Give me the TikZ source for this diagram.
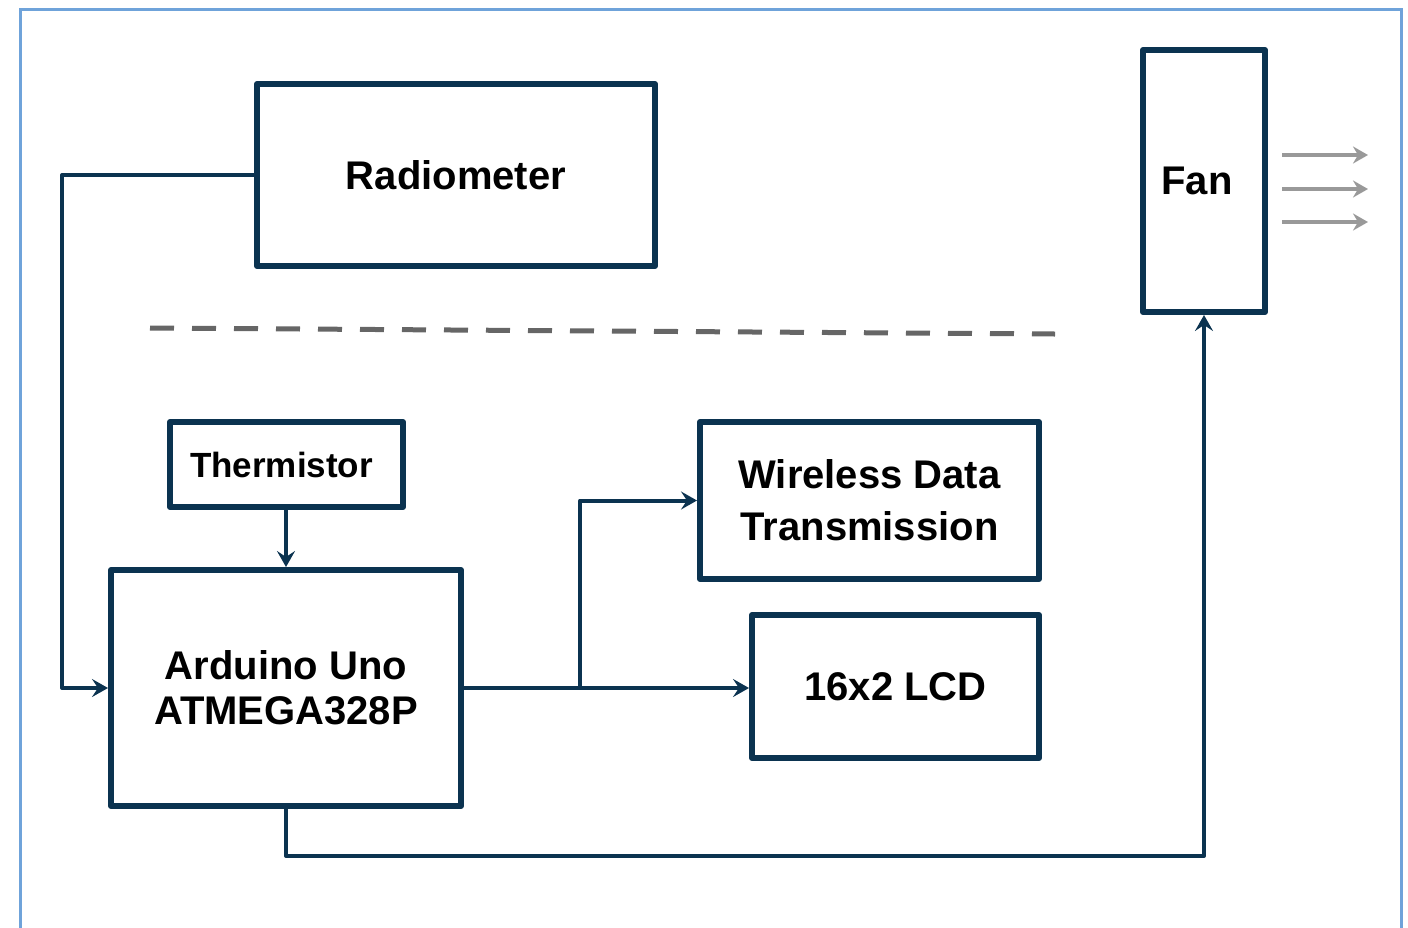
\documentclass[tikz,border=0pt]{standalone}
\usepackage{fontspec}
\setmainfont{Liberation Sans}
\usetikzlibrary{arrows.meta,calc}
\definecolor{navy}{HTML}{0B3350}
\definecolor{frameblue}{HTML}{6FA3DA}
\definecolor{dashgray}{HTML}{666666}
\definecolor{fangray}{HTML}{999999}
\tikzset{
  blk/.style={draw=navy, line width=6pt, line join=round, fill=white, align=center,
    inner sep=0pt, text=black, font=\bfseries\fontsize{40}{45}\selectfont},
  conn/.style={draw=navy, line width=4pt, line join=round,
    -{Stealth[length=16pt,width=18pt,inset=6pt]}},
  plain/.style={draw=navy, line width=4pt, line join=round},
  fanarrow/.style={draw=fangray, line width=4.5pt,
    -{Stealth[length=15pt,width=17pt,inset=5pt]}},
}
\begin{document}
\begin{tikzpicture}[x=1pt,y=-1pt]
\useasboundingbox (0,0) rectangle (1408,927);
% frame
\draw[frameblue, line width=3pt] (20,930) -- (20,9) -- (1401,9) -- (1401,930);
% blocks
\node[blk, minimum width=398pt, minimum height=182pt] (rad) at (456,175) {Radiometer};
\node[blk, minimum width=122pt, minimum height=262pt] (fan) at (1204,181) {Fan\hspace{14pt}};
\node[blk, minimum width=233pt, minimum height=85pt, font=\bfseries\fontsize{35}{40}\selectfont] (therm) at (286.5,464.5) {Thermistor\hspace{10pt}};
\node[blk, minimum width=350pt, minimum height=236pt, font=\bfseries\fontsize{40}{45}\selectfont] (ard) at (286,688) {Arduino Uno\\ATMEGA328P};
\node[blk, minimum width=339pt, minimum height=157pt, font=\bfseries\fontsize{40}{52}\selectfont] (wl) at (869.5,500.5) {Wireless Data\\Transmission};
\node[blk, minimum width=287pt, minimum height=143pt] (lcd) at (895.5,686.5) {16x2 LCD};
% dashed separator
\coordinate (d1) at (150,328);
\coordinate (d2) at (1055,334);
\draw[dashgray, line width=5pt, dash pattern=on 24pt off 18pt] (d1) -- (d2);
% fan airflow arrows
\foreach \i/\yy in {1/155,2/189,3/222}{
  \coordinate (fa\i) at (1282,\yy);
  \coordinate (fb\i) at (1368,\yy);
  \draw[fanarrow] (fa\i) -- (fb\i);
}
% connectors
\coordinate (rl) at (62,175);
\draw[conn] (rad.west) -- (rl) |- (ard.west);
\draw[conn] (therm.south -| ard.north) -- (ard.north);
\coordinate (j) at (580,688);
\draw[plain] (ard.east) -- (j);
\draw[conn] (j) -- (j -| lcd.west);
\draw[conn] (j) |- (wl.west);
\coordinate (bb) at (286,856);
\draw[conn] (ard.south) -- (bb) -| (fan.south);
\end{tikzpicture}
\end{document}
